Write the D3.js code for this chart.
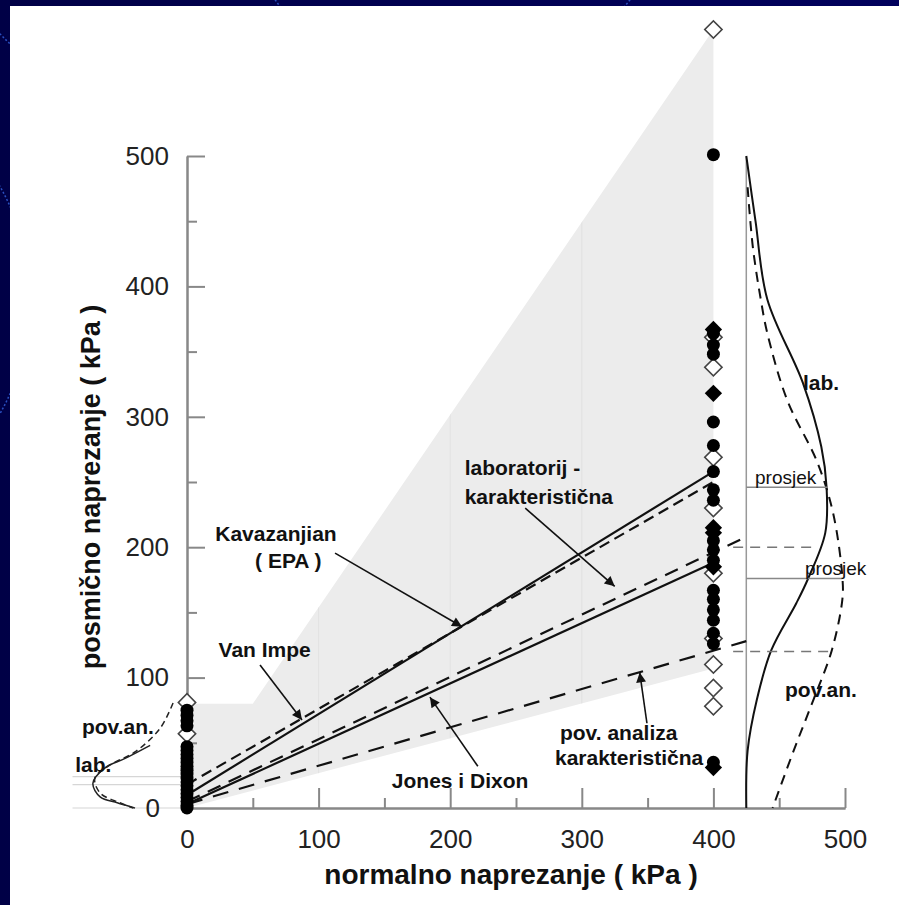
<!DOCTYPE html>
<html>
<head>
<meta charset="utf-8">
<script src="https://cdn.jsdelivr.net/npm/d3@7"></script>
<style>
  html, body { margin: 0; padding: 0; background: #00004f; }
  svg { display: block; }
  text { font-family: "Liberation Sans", Arial, sans-serif; }
</style>
</head>
<body>
<svg id="chart"></svg>
<script>
// axis ticks
const xMajor = [0, 100, 200, 300, 400, 500];
const xMinor = [50, 150, 250, 350, 450];
const yMajor = [0, 100, 200, 300, 400, 500];
const yMinor = [50, 150, 250, 350, 450];

// shaded range of results (normal, shear)
const grayZone = [[0, 0], [0, 80], [50, 80], [400, 597], [400, 107]];
const gridX = [100, 200, 300];

// envelopes
const kavazanjian = [[0, 10], [400, 258]];
const vanImpe = [[0, 18], [400, 250]];
const labChar = [[0, 5], [425, 208]];
const jonesDixon = [[0, 3], [400, 188]];
const povChar = [[0, 3], [425, 128]];

// test results at normal stress 0 and 400
const open0 = [81, 57];
const circles0 = [75, 71, 67, 63, 47, 44, 41, 38, 35, 32, 29, 26, 23, 20, 17, 14, 11, 8, 5, 2, 0];
const open400 = [597, 361, 338, 269, 230, 180, 130, 110, 92, 78];
const circles400 = [501, 364, 355, 348, 296, 278, 258, 244, 236, 205, 198, 190, 167, 160, 152, 144, 134, 126, 35];
const diamonds400 = [367, 318, 215, 211, 185, 31];

// distributions on the right (baseline at 425)
const rightBase = [[425, 0], [425, 500]];
const labRight = [[425, 500], [432, 450], [441, 390], [468, 326], [482, 277], [486, 246], [485, 211], [472, 176], [463, 157], [444, 121], [433, 83], [426, 44], [425, 0]];
const povRight = [[426, 476], [430, 430], [436, 390], [441, 364], [456, 313], [479, 265], [491, 226], [498, 177], [498, 160], [490, 121], [476, 83], [461, 44], [445, 0]];
const meanLines = [
  { from: 425, to: 487, y: 246, dash: false },
  { from: 425, to: 498, y: 176, dash: false },
  { from: 415, to: 478, y: 200, dash: true },
  { from: 415, to: 492, y: 120, dash: true }
];

// distributions on the left (at normal stress 0)
const labLeft = [[-28, 48], [-47, 38], [-62, 31], [-71.5, 19], [-66, 8.5], [-53, 4], [-39.5, 0]];
const povLeft = [[-10.6, 80.5], [-20.5, 61], [-39.5, 43], [-58.5, 33], [-70, 23], [-66, 11.5], [-51, 4], [-41, 0]];
const leftGuides = [0, 18, 24];

// annotations
const arrows = [
  [[112.5, 195.5], [209, 139]],
  [[55.5, 109.7], [87.4, 67.5]],
  [[257, 230], [325, 170]],
  [[221, 32], [184.6, 85]],
  [[349.5, 65], [344, 104]]
];
const labels = [
  { text: "Kavazanjian", x: 67.6, y: 204.8, anchor: "middle", size: 21, bold: true },
  { text: "( EPA )", x: 77, y: 184, anchor: "middle", size: 21, bold: true },
  { text: "Van Impe", x: 59, y: 115.8, anchor: "middle", size: 21, bold: true },
  { text: "laboratorij -", x: 211, y: 255, anchor: "start", size: 21, bold: true },
  { text: "karakteristična", x: 211, y: 233, anchor: "start", size: 21, bold: true },
  { text: "Jones i Dixon", x: 207.5, y: 15.3, anchor: "middle", size: 21, bold: true },
  { text: "pov. analiza", x: 283.4, y: 52, anchor: "start", size: 21, bold: true },
  { text: "karakteristična", x: 279.6, y: 33, anchor: "start", size: 21, bold: true },
  { text: "lab.", x: 468, y: 320.5, anchor: "start", size: 21, bold: true },
  { text: "pov.an.", x: 454.4, y: 85, anchor: "start", size: 21, bold: true },
  { text: "prosjek", x: 431.6, y: 248.5, anchor: "start", size: 19, bold: false },
  { text: "prosjek", x: 469.6, y: 178.7, anchor: "start", size: 19, bold: false },
  { text: "pov.an.", x: -79.8, y: 56.7, anchor: "start", size: 21, bold: true },
  { text: "lab.", x: -85, y: 27.6, anchor: "start", size: 21, bold: true }
];

const W = 899, H = 905;
const svg = d3.select("#chart").attr("width", W).attr("height", H);

// slide background
const bg = svg.append("defs").append("linearGradient").attr("id", "bg").attr("x1", 0).attr("x2", 1);
bg.append("stop").attr("offset", 0).attr("stop-color", "#000046");
bg.append("stop").attr("offset", 1).attr("stop-color", "#00005c");
svg.append("rect").attr("width", W).attr("height", H).attr("fill", "url(#bg)");
[[300, -260, 420], [700, -300, 520], [-200, 300, 230]].forEach(c => {
  svg.append("circle").attr("cx", c[0]).attr("cy", c[1]).attr("r", c[2])
    .attr("fill", "none").attr("stroke", "#2a4fc0").attr("stroke-width", 1.5)
    .attr("stroke-dasharray", "2,2");
});
svg.append("rect").attr("x", 10).attr("y", 6).attr("width", W - 10).attr("height", H - 6).attr("fill", "#ffffff");

const x = d3.scaleLinear().domain([0, 500]).range([187, 845]);
const y = d3.scaleLinear().domain([0, 500]).range([808, 156]);

const line = d3.line().x(d => x(d[0])).y(d => y(d[1]));
const curve = d3.line().x(d => x(d[0])).y(d => y(d[1])).curve(d3.curveCatmullRom);

const defs = svg.select("defs");
defs.append("clipPath").attr("id", "zone")
  .append("path").attr("d", line(grayZone) + "Z");

defs.append("marker")
  .attr("id", "head")
  .attr("viewBox", "0 0 10 10")
  .attr("refX", 10).attr("refY", 5)
  .attr("markerWidth", 12).attr("markerHeight", 10)
  .attr("markerUnits", "userSpaceOnUse")
  .attr("orient", "auto")
  .append("path").attr("d", "M0,0L10,5L0,10Z").attr("fill", "#111");

// gray zone + faint grid
svg.append("path").attr("d", line(grayZone) + "Z").attr("fill", "#ececec");
svg.append("g").attr("clip-path", "url(#zone)")
  .selectAll("line").data(gridX).enter().append("line")
  .attr("x1", d => x(d)).attr("x2", d => x(d))
  .attr("y1", y(0)).attr("y2", y(600))
  .attr("stroke", "#e2e2e2").attr("stroke-width", 1);

// left guides
svg.selectAll(".guide").data(leftGuides).enter().append("line")
  .attr("class", "guide")
  .attr("x1", x(-87)).attr("x2", x(0))
  .attr("y1", d => y(d)).attr("y2", d => y(d))
  .attr("stroke", "#d6d6d6").attr("stroke-width", 1.2);

// axes
svg.append("g").attr("transform", `translate(${x(0)},0)`)
  .call(d3.axisLeft(y).tickValues(yMajor.slice(1)).tickSize(-18).tickSizeOuter(0).tickPadding(18));
svg.append("g").attr("transform", `translate(${x(0)},0)`)
  .call(d3.axisLeft(y).tickValues(yMinor).tickSize(-10).tickSizeOuter(0).tickFormat(""));
svg.append("text").attr("x", 160).attr("y", y(0)).attr("dy", "0.35em")
  .attr("text-anchor", "end").attr("font-size", 26).attr("fill", "#222").text("0");

svg.append("g").attr("transform", `translate(0,${y(0)})`)
  .call(d3.axisBottom(x).tickValues(xMajor).tickSize(-20).tickSizeOuter(0).tickPadding(22));
svg.append("g").attr("transform", `translate(0,${y(0)})`)
  .call(d3.axisBottom(x).tickValues(xMinor).tickSize(-10).tickSizeOuter(0).tickFormat(""));

svg.selectAll(".domain, .tick line").attr("stroke", "#888").attr("stroke-width", 2);
svg.selectAll(".tick text").attr("font-size", 26).attr("fill", "#222")
  .attr("font-family", "Liberation Sans, Arial, sans-serif");

svg.append("text")
  .attr("x", 511).attr("y", 884)
  .attr("text-anchor", "middle").attr("font-size", 28).attr("font-weight", "bold").attr("fill", "#111")
  .text("normalno naprezanje ( kPa )");
svg.append("text")
  .attr("transform", `translate(100,487) rotate(-90)`)
  .attr("text-anchor", "middle").attr("font-size", 27).attr("font-weight", "bold").attr("fill", "#111")
  .text("posmično naprezanje ( kPa )");

// right distribution
svg.append("path").attr("d", line(rightBase)).attr("stroke", "#999").attr("stroke-width", 1.5);
svg.append("path").attr("d", curve(labRight)).attr("fill", "none").attr("stroke", "#111").attr("stroke-width", 2);
svg.append("path").attr("d", curve(povRight)).attr("fill", "none").attr("stroke", "#111").attr("stroke-width", 2)
  .attr("stroke-dasharray", "10,7");
svg.selectAll(".mean").data(meanLines).enter().append("line")
  .attr("class", "mean")
  .attr("x1", d => x(d.from)).attr("x2", d => x(d.to))
  .attr("y1", d => y(d.y)).attr("y2", d => y(d.y))
  .attr("stroke", d => d.dash ? "#777" : "#888").attr("stroke-width", 1.5)
  .attr("stroke-dasharray", d => d.dash ? "10,7" : null);

// left distribution
svg.append("path").attr("d", curve(labLeft)).attr("fill", "none").attr("stroke", "#222").attr("stroke-width", 1.5);
svg.append("path").attr("d", curve(povLeft)).attr("fill", "none").attr("stroke", "#222").attr("stroke-width", 1.5)
  .attr("stroke-dasharray", "6,4");

// envelopes
[
  { d: kavazanjian, dash: null },
  { d: vanImpe, dash: "11,6" },
  { d: labChar, dash: "14,9" },
  { d: jonesDixon, dash: null },
  { d: povChar, dash: "16,11" }
].forEach(e => {
  svg.append("path").attr("d", line(e.d)).attr("fill", "none")
    .attr("stroke", "#111").attr("stroke-width", 2.2)
    .attr("stroke-dasharray", e.dash);
});

// points
const diamond = d3.symbol().type(d3.symbolSquare).size(150);
const pts = svg.append("g");
pts.selectAll(".o0").data(open0).enter().append("path")
  .attr("d", diamond).attr("transform", d => `translate(${x(0)},${y(d)}) rotate(45)`)
  .attr("fill", "#fff").attr("stroke", "#444").attr("stroke-width", 1.6);
pts.selectAll(".o400").data(open400).enter().append("path")
  .attr("d", diamond).attr("transform", d => `translate(${x(400)},${y(d)}) rotate(45)`)
  .attr("fill", "#fff").attr("stroke", "#444").attr("stroke-width", 1.6);
pts.selectAll(".c0").data(circles0).enter().append("circle")
  .attr("cx", x(0)).attr("cy", d => y(d)).attr("r", 6.5).attr("fill", "#000");
pts.selectAll(".c400").data(circles400).enter().append("circle")
  .attr("cx", x(400)).attr("cy", d => y(d)).attr("r", 6.5).attr("fill", "#000");
pts.selectAll(".d400").data(diamonds400).enter().append("path")
  .attr("d", diamond).attr("transform", d => `translate(${x(400)},${y(d)}) rotate(45)`)
  .attr("fill", "#000");

// arrows
svg.selectAll(".arrow").data(arrows).enter().append("line")
  .attr("class", "arrow")
  .attr("x1", d => x(d[0][0])).attr("y1", d => y(d[0][1]))
  .attr("x2", d => x(d[1][0])).attr("y2", d => y(d[1][1]))
  .attr("stroke", "#111").attr("stroke-width", 1.6)
  .attr("marker-end", "url(#head)");

// labels
svg.selectAll(".lbl").data(labels).enter().append("text")
  .attr("class", "lbl")
  .attr("x", d => x(d.x)).attr("y", d => y(d.y))
  .attr("text-anchor", d => d.anchor)
  .attr("font-size", d => d.size)
  .attr("font-weight", d => d.bold ? "bold" : "normal")
  .attr("fill", "#111")
  .text(d => d.text);
</script>
</body>
</html>
